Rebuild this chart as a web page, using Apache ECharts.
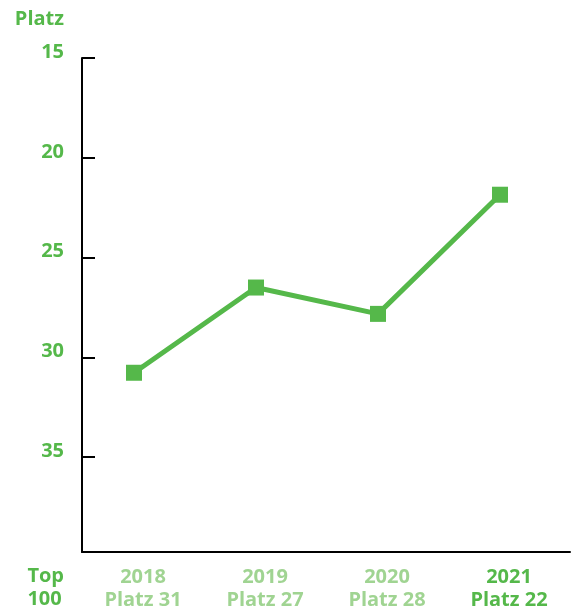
<!DOCTYPE html>
<html>
<head>
<meta charset="utf-8">
<title>Platz Top 100</title>
<script src="https://cdn.jsdelivr.net/npm/echarts@6/dist/echarts.min.js"></script>
<style>
  html, body { margin: 0; padding: 0; background: #fff; }
  #chart { width: 574px; height: 612px; }
</style>
</head>
<body>
<div id="chart"></div>
<script>
// data
var years = ['2018', '2019', '2020', '2021'];
var ranks = ['31', '27', '28', '22'];          // label text under the axis
var values = [30.77, 26.5, 27.82, 21.85];      // plotted positions
var yTicks = [15, 20, 25, 30, 35];

var green = '#55b84a';
var lightGreen = '#a0d492';
var font = '"Open Sans", "Noto Sans", sans-serif';

var chart = echarts.init(document.getElementById('chart'));

var gridLeft = 82, gridRight = 4, gridTop = 58, gridBottom = 60;
var shift = 9; // markers sit a little left of the category centers

chart.setOption({
  animation: false,
  textStyle: { fontFamily: font },
  grid: [
    { left: gridLeft, right: gridRight, top: gridTop, bottom: gridBottom },
    { left: gridLeft - shift, right: gridRight + shift, top: gridTop, bottom: gridBottom }
  ],
  graphic: [
    { type: 'text', right: 510, top: 9,
      style: { text: 'Platz', fill: green, font: 'bold 20px ' + font } },
    { type: 'text', right: 510, top: 565,
      style: { text: 'Top\n100', fill: green, font: 'bold 20px ' + font, align: 'right', lineHeight: 23 } }
  ],
  xAxis: [
    {
      type: 'category', gridIndex: 0, data: years, boundaryGap: true,
      axisLine: { lineStyle: { color: '#000', width: 2 } },
      axisTick: { inside: true, length: 11, lineStyle: { color: '#000', width: 2 } },
      axisLabel: {
        margin: 14,
        formatter: function (v, i) {
          var s = i === years.length - 1 ? 'b' : 'a';
          return '{' + s + '|' + v + '}\n{' + s + '|Platz ' + ranks[i] + '}';
        },
        rich: {
          a: { color: lightGreen, fontWeight: 'bold', fontSize: 20, lineHeight: 23, fontFamily: font },
          b: { color: green, fontWeight: 'bold', fontSize: 20, lineHeight: 23, fontFamily: font }
        }
      }
    },
    { type: 'category', gridIndex: 1, data: years, boundaryGap: true, show: false }
  ],
  yAxis: [
    {
      type: 'value', gridIndex: 0, inverse: true, min: 15, max: 39.75, interval: 5,
      axisLine: { show: true, lineStyle: { color: '#000', width: 2 } },
      axisTick: { show: true, inside: true, length: 13, lineStyle: { color: '#000', width: 2 } },
      splitLine: { show: false },
      axisLabel: {
        color: green, fontWeight: 'bold', fontSize: 20, margin: 18, showMaxLabel: false,
        verticalAlign: 'bottom', lineHeight: 12,
        formatter: function (v) { return yTicks.indexOf(v) >= 0 ? String(v) : ''; }
      }
    },
    { type: 'value', gridIndex: 1, inverse: true, min: 15, max: 39.75, show: false }
  ],
  series: [{
    type: 'line',
    xAxisIndex: 1, yAxisIndex: 1,
    data: values,
    symbol: 'rect',
    symbolSize: 16,
    lineStyle: { color: green, width: 5 },
    itemStyle: { color: green },
    z: 3
  }]
});
</script>
</body>
</html>
